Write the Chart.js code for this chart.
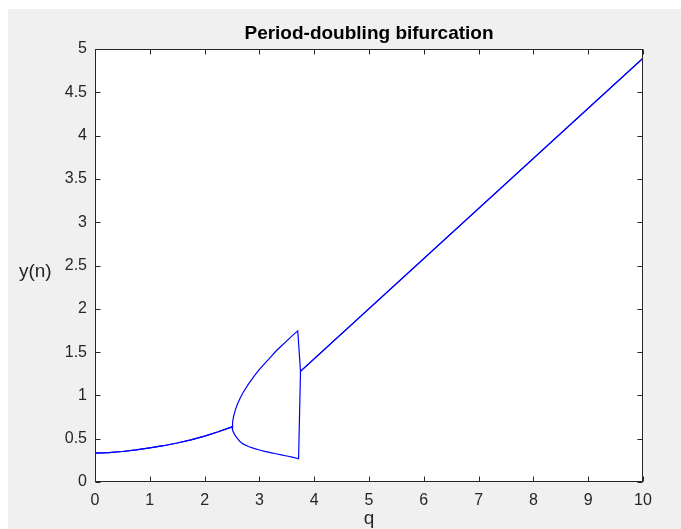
<!DOCTYPE html>
<html>
<head>
<meta charset="utf-8">
<script src="https://cdn.jsdelivr.net/npm/chart.js@4.4.1/dist/chart.umd.min.js"></script>
<style>
  html, body { margin: 0; padding: 0; background: #ffffff; width: 681px; height: 529px; overflow: hidden; }
  #wrap { position: absolute; left: 8px; top: 9px; width: 673px; height: 520px; background: #f0f0f0; }
  canvas { display: block; }
</style>
</head>
<body>
<div id="wrap"><canvas id="c" width="673" height="520"></canvas></div>
<script>
// ---- data ----
const titleText = 'Period-doubling bifurcation';
const xLabel = 'q';
const yLabel = 'y(n)';

const xTickValues = [0, 1, 2, 3, 4, 5, 6, 7, 8, 9, 10];
const yTickValues = [0, 0.5, 1, 1.5, 2, 2.5, 3, 3.5, 4, 4.5, 5];

// single branch before the bifurcation
const qCommon = [0, 0.25, 0.5, 0.75, 1, 1.25, 1.5, 1.75, 2, 2.25, 2.5];
const yCommon = [0.333, 0.340, 0.352, 0.370, 0.393, 0.419, 0.450, 0.487, 0.530, 0.580, 0.637];

// upper branch of the period-2 cycle
const qUpper = [2.51, 2.53, 2.56, 2.6, 2.65, 2.7, 2.8, 2.9, 3.0, 3.1, 3.2, 3.3, 3.4, 3.5, 3.6, 3.7];
const yUpper = [0.69, 0.76, 0.83, 0.90, 0.97, 1.03, 1.13, 1.22, 1.30, 1.37, 1.44, 1.51, 1.57, 1.63, 1.69, 1.745];

// lower branch of the period-2 cycle
const qLower = [2.51, 2.53, 2.56, 2.6, 2.65, 2.7, 2.8, 2.9, 3.0, 3.1, 3.2, 3.3, 3.4, 3.5, 3.6, 3.715];
const yLower = [0.60, 0.57, 0.535, 0.50, 0.465, 0.44, 0.41, 0.388, 0.37, 0.353, 0.339, 0.326, 0.313, 0.30, 0.287, 0.268];

// straight branch after the collapse
const qLinear = [3.75, 10];
const yLinear = [1.278, 4.893];

function pts(qs, ys) { return qs.map((q, i) => ({ x: q, y: ys[i] })); }

const upperData = [].concat(pts(qCommon, yCommon), pts(qUpper, yUpper), pts(qLinear, yLinear));
const lowerData = [].concat(pts(qCommon, yCommon), pts(qLower, yLower), pts(qLinear, yLinear));

Chart.defaults.font.family = '"Liberation Sans", Arial, Helvetica, sans-serif';

const AXIS_COLOR = '#262626';

const framePlugin = {
  id: 'frame',
  beforeDraw(chart) {
    const { ctx, chartArea: a } = chart;
    ctx.save();
    ctx.fillStyle = '#ffffff';
    ctx.fillRect(a.left, a.top, a.right - a.left, a.bottom - a.top);
    ctx.restore();
  },
  afterDraw(chart) {
    const { ctx, chartArea: a, scales } = chart;
    const xs = scales.x, ys = scales.y;
    ctx.save();
    ctx.strokeStyle = AXIS_COLOR;
    ctx.lineWidth = 1;
    const L = Math.round(a.left) + 0.5, R = Math.round(a.right) - 0.5;
    const T = Math.round(a.top) + 0.5, B = Math.round(a.bottom) - 0.5;
    ctx.strokeRect(L, T, R - L, B - T);
    ctx.beginPath();
    const tl = 5;
    xTickValues.forEach(v => {
      const px = Math.round(xs.getPixelForValue(v)) + 0.5;
      ctx.moveTo(px, B); ctx.lineTo(px, B - tl);
      ctx.moveTo(px, T); ctx.lineTo(px, T + tl);
    });
    yTickValues.forEach(v => {
      const py = Math.round(ys.getPixelForValue(v)) + 0.5;
      ctx.moveTo(L, py); ctx.lineTo(L + tl, py);
      ctx.moveTo(R, py); ctx.lineTo(R - tl, py);
    });
    ctx.stroke();

    // title
    ctx.fillStyle = '#000000';
    ctx.font = 'bold 19px "Liberation Sans", Arial, sans-serif';
    ctx.textAlign = 'center';
    ctx.textBaseline = 'alphabetic';
    ctx.fillText(titleText, (a.left + a.right) / 2, 30);

    // horizontal y label
    ctx.fillStyle = AXIS_COLOR;
    ctx.font = '19px "Liberation Sans", Arial, sans-serif';
    ctx.fillText(yLabel, 27.3, 268.4);
    ctx.restore();
  }
};

const lineStyle = {
  borderColor: '#0000ff',
  borderWidth: 1.2,
  pointRadius: 0,
  pointHoverRadius: 0,
  showLine: true,
  fill: false,
  tension: 0
};

new Chart(document.getElementById('c'), {
  type: 'scatter',
  data: {
    datasets: [
      Object.assign({ label: 'upper', data: upperData }, lineStyle),
      Object.assign({ label: 'lower', data: lowerData }, lineStyle)
    ]
  },
  options: {
    responsive: false,
    animation: false,
    events: [],
    layout: { padding: { left: 0, right: 38, top: 40, bottom: 0 } },
    plugins: {
      legend: { display: false },
      title: { display: false },
      tooltip: { enabled: false }
    },
    scales: {
      x: {
        type: 'linear',
        min: 0, max: 10,
        grid: { display: false, drawTicks: false },
        border: { display: false },
        afterBuildTicks(scale) { scale.ticks = xTickValues.map(v => ({ value: v })); },
        afterFit(scale) { scale.height = 47; },
        ticks: {
          autoSkip: false, maxRotation: 0, padding: 9,
          color: AXIS_COLOR,
          font: { size: 16 },
          callback: v => String(v)
        },
        title: {
          display: true, text: xLabel, color: AXIS_COLOR,
          font: { size: 19, lineHeight: 1 },
          padding: { top: 0, bottom: 1 }
        }
      },
      y: {
        type: 'linear',
        min: 0, max: 5,
        grid: { display: false, drawTicks: false },
        border: { display: false },
        afterBuildTicks(scale) { scale.ticks = yTickValues.map(v => ({ value: v })); },
        afterFit(scale) { scale.width = 87; },
        ticks: {
          autoSkip: false, padding: 8,
          color: AXIS_COLOR,
          font: { size: 16 },
          callback: v => String(v)
        }
      }
    }
  },
  plugins: [framePlugin]
});
</script>
</body>
</html>
